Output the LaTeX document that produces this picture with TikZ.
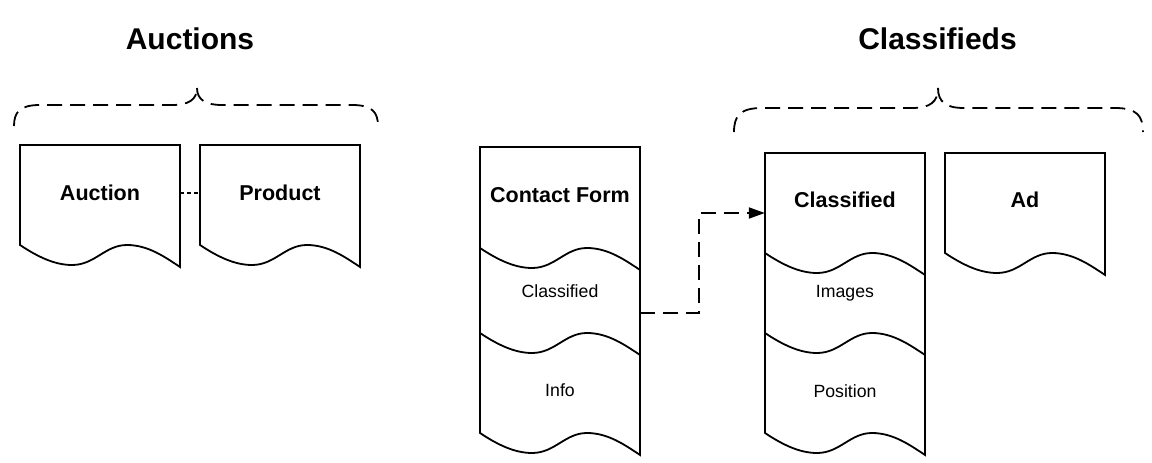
\documentclass[tikz,border=0pt]{standalone}
\usepackage{fontspec}
\setmainfont{Liberation Sans}
\usetikzlibrary{arrows.meta}
\tikzset{
  shapeline/.style={draw=black, line width=1.8pt, line join=miter, fill=white},
  waveline/.style={draw=black, line width=1.8pt},
  bracestyle/.style={draw=black, line width=1.8pt, dash pattern=on 15pt off 8pt, line cap=butt},
  frame/.style={inner sep=0pt, minimum width=160pt, draw=none},
  bigtext/.style={font=\fontsize{21.5}{24}\selectfont\bfseries, text depth=0pt, inner sep=0pt},
  smalltext/.style={font=\fontsize{17.7}{20}\selectfont, text depth=0pt, inner sep=0pt},
  titletext/.style={font=\fontsize{30}{34}\selectfont\bfseries, text depth=0pt, inner sep=0pt},
  dotconn/.style={draw=black, line width=1.6pt, dash pattern=on 4pt off 3pt},
  dashconn/.style={draw=black, line width=1.8pt, dash pattern=on 15pt off 8pt, -{Triangle[length=16pt,width=11pt]}},
}
% document outline: x0, top, yL (left end of bottom wave)
\newcommand\docoutline[3]{%
  \draw[shapeline] (#1+160,#3+22) -- (#1+160,#2) -- (#1,#2) -- (#1,#3)
    .. controls (#1+18,#3+12) and (#1+35,#3+20) .. (#1+52,#3+20)
    .. controls (#1+75,#3+20) and (#1+85,#3) .. (#1+107,#3)
    .. controls (#1+128,#3) and (#1+145,#3+12) .. (#1+160,#3+22) -- cycle;}
\newcommand\innerwave[2]{%
  \draw[waveline] (#1,#2)
    .. controls (#1+18,#2+12) and (#1+35,#2+20) .. (#1+52,#2+20)
    .. controls (#1+75,#2+20) and (#1+85,#2) .. (#1+107,#2)
    .. controls (#1+128,#2) and (#1+145,#2+12) .. (#1+160,#2+22);}
\begin{document}
\begin{tikzpicture}[x=1pt,y=-1pt]
\useasboundingbox[fill=white] (0,0) rectangle (1152,463);

% titles
\node[titletext] (tauctions) at (190,39) {Auctions};
\node[titletext] (tclassifieds) at (937.5,39) {Classifieds};

% braces
\draw[bracestyle] (14,126) .. controls (14,112) and (20,105) .. (40,105) -- (172,105)
  .. controls (188,105) and (197,100) .. (197,88);
\draw[bracestyle] (197,88) .. controls (197,100) and (206,105) .. (222,105) -- (352,105)
  .. controls (372,105) and (378,112) .. (378,126);
\draw[bracestyle] (734,132) .. controls (734,116) and (740,108) .. (762,108) -- (912,108)
  .. controls (930,108) and (938,102) .. (938,88);
\draw[bracestyle] (938,88) .. controls (938,102) and (946,108) .. (964,108) -- (1115,108)
  .. controls (1137,108) and (1143,116) .. (1143,132);

% document shapes
\docoutline{20}{145}{245}
\docoutline{200}{145}{245}
\docoutline{480}{147}{433}
\innerwave{480}{248}
\innerwave{480}{333}
\docoutline{765}{153}{433}
\innerwave{765}{253}
\innerwave{765}{333}
\docoutline{945}{153}{253}

% invisible frames for connectors
\node[frame, minimum height=96pt] (auction) at (100,193) {};
\node[frame, minimum height=96pt] (product) at (280,193) {};
\node[frame, minimum height=86pt] (cfclass) at (560,313) {};
\node[frame, minimum height=120pt] (classified) at (845,213) {};

% texts
\node[bigtext] (lauction) at (100,193) {Auction};
\node[bigtext] (lproduct) at (280,193) {Product};
\node[bigtext] (lcontact) at (560,195) {Contact Form};
\node[smalltext] (lcfclass) at (560,291) {Classified};
\node[smalltext] (linfo) at (560,390) {Info};
\node[bigtext] (lclassified) at (845,200) {Classified};
\node[smalltext] (limages) at (845,291) {Images};
\node[smalltext] (lposition) at (845,391) {Position};
\node[bigtext] (lad) at (1025,200) {Ad};

% connectors
\draw[dotconn] (auction.east) -- (product.west);
\draw[dashconn] (cfclass.east) -- ++(59,0) |- (classified.west);
\end{tikzpicture}
\end{document}
